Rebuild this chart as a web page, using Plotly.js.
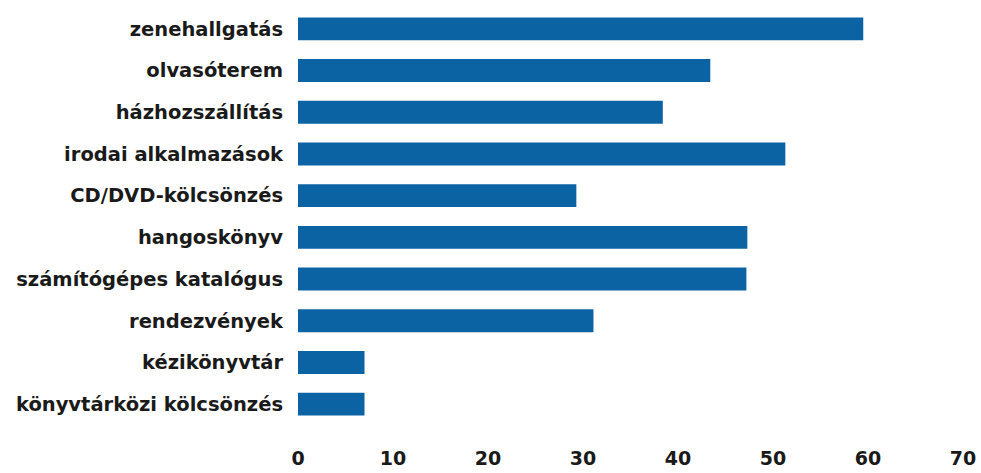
<!DOCTYPE html>
<html>
<head>
<meta charset="utf-8">
<script src="https://cdn.plot.ly/plotly-3.0.1.min.js"></script>
<style>html,body{margin:0;padding:0;background:#fff;}#chart{width:981px;height:473px;}</style>
</head>
<body>
<div id="chart"></div>
<script>
const categories = [
  "zenehallgatás",
  "olvasóterem",
  "házhozszállítás",
  "irodai alkalmazások",
  "CD/DVD-kölcsönzés",
  "hangoskönyv",
  "számítógépes katalógus",
  "rendezvények",
  "kézikönyvtár",
  "könyvtárközi kölcsönzés"
];
const values = [59.5, 43.4, 38.4, 51.3, 29.3, 47.3, 47.2, 31.1, 7.0, 7.0];
const xTicks = [0, 10, 20, 30, 40, 50, 60, 70];

const trace = {
  type: "bar",
  orientation: "h",
  y: categories,
  x: values,
  marker: {color: "#0c63a3"},
  hoverinfo: "x+y"
};

const layout = {
  width: 981,
  height: 473,
  margin: {l: 298, r: 18, t: 8, b: 48},
  paper_bgcolor: "#ffffff",
  plot_bgcolor: "#ffffff",
  showlegend: false,
  bargap: 0.45,
  font: {family: "DejaVu Sans, Liberation Sans, Arial, sans-serif", color: "#1a1a1a"},
  xaxis: {
    range: [0, 70],
    tickvals: xTicks,
    ticktext: xTicks.map(String),
    showgrid: false,
    zeroline: false,
    showline: false,
    ticks: "",
    ticklabelstandoff: 20,
    tickfont: {size: 19, weight: "bold", color: "#1a1a1a"}
  },
  yaxis: {
    autorange: "reversed",
    showgrid: false,
    zeroline: false,
    showline: false,
    ticks: "",
    ticklabelstandoff: 14,
    tickfont: {size: 19.5, weight: "bold", color: "#1a1a1a"}
  }
};

Plotly.newPlot("chart", [trace], layout, {displayModeBar: false, staticPlot: true});
</script>
</body>
</html>
